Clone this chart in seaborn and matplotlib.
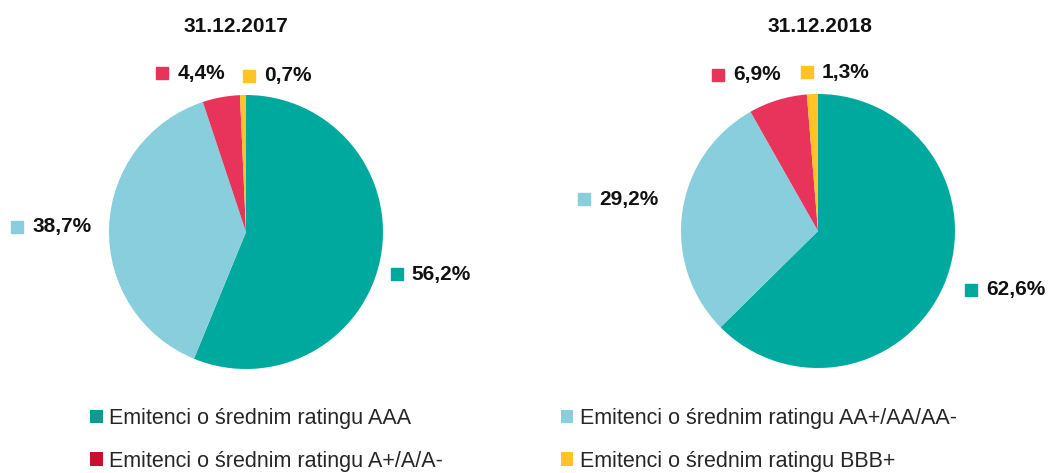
import matplotlib
matplotlib.use("Agg")
import matplotlib.pyplot as plt
from matplotlib.patches import Patch
import seaborn as sns

# data
categories = [
    "Emitenci o średnim ratingu AAA",
    "Emitenci o średnim ratingu AA+/AA/AA-",
    "Emitenci o średnim ratingu A+/A/A-",
    "Emitenci o średnim ratingu BBB+",
]
titles = ["31.12.2017", "31.12.2018"]
values_2017 = [56.2, 38.7, 4.4, 0.7]
values_2018 = [62.6, 29.2, 6.9, 1.3]

pie_colors = ["#00A99D", "#88CEDD", "#E8335A", "#FFC423"]
legend_colors = ["#0F9A91", "#88CEDD", "#C8102E", "#FFC423"]

# label anchor positions (pie radius = 1), one per wedge
label_pos_2017 = [(1.10, -0.31), (-1.67, 0.04), (-0.61, 1.16), (0.02, 1.14)]
label_pos_2018 = [(1.12, -0.43), (-1.71, 0.23), (-0.73, 1.14), (-0.08, 1.16)]

sns.set_theme(style="white")
plt.rcParams["font.family"] = ["Liberation Sans", "DejaVu Sans"]

fig = plt.figure(figsize=(10.48, 4.73), dpi=100)

W, H = 1048, 473
r_px = 137
centers = [(246, 232), (818, 231)]
title_x = [236, 820]
series = [values_2017, values_2018]
label_pos = [label_pos_2017, label_pos_2018]

for (cx, cy), tx, vals, title, lpos in zip(centers, title_x, series, titles, label_pos):
    ax = fig.add_axes([(cx - r_px) / W, (H - cy - r_px) / H, 2 * r_px / W, 2 * r_px / H])
    ax.pie(vals, colors=pie_colors, startangle=90, counterclock=False,
           wedgeprops=dict(linewidth=0))
    ax.set_xlim(-1, 1)
    ax.set_ylim(-1, 1)
    ax.set_aspect("auto")
    ax.axis("off")
    for v, col, (lx, ly) in zip(vals, pie_colors, lpos):
        ax.plot(lx, ly, marker="s", markersize=8, color=col, clip_on=False,
                linestyle="none")
        ax.text(lx + 0.11, ly, f"{v:.1f}%".replace(".", ","), fontsize=15,
                fontweight="bold", ha="left", va="center", color="#111111",
                clip_on=False)
    fig.text(tx / W, 1 - 26 / H, title, fontsize=15, fontweight="bold",
             ha="center", va="center", color="#111111")

# legend goes row by row: AAA, AA | A, BBB
order = [0, 2, 1, 3]
handles = [Patch(facecolor=legend_colors[i], edgecolor="none") for i in order]
labels = [categories[i] for i in order]
fig.legend(handles, labels, loc="center left", bbox_to_anchor=(90 / W, 1 - 440 / H),
           ncol=2, frameon=False, fontsize=15.5, handlelength=0.6, handleheight=0.6,
           handletextpad=0.3, columnspacing=5.45, labelspacing=1.0,
           borderaxespad=0, borderpad=0)

fig.savefig("out.png", dpi=100, facecolor="white")
